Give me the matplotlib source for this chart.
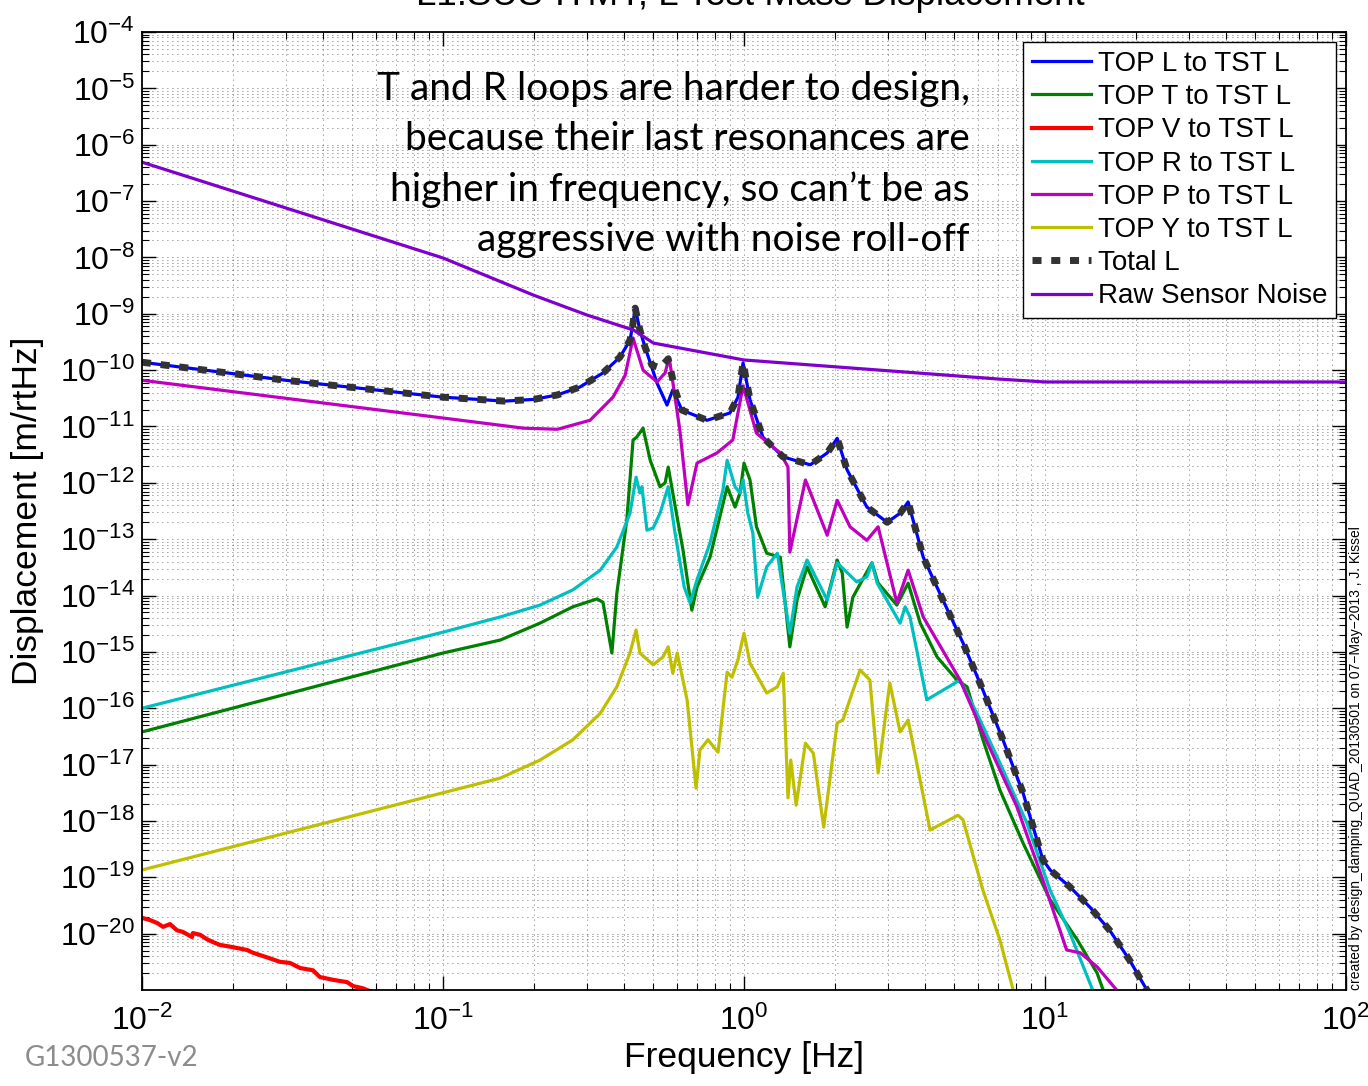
import numpy as np
import matplotlib.pyplot as plt
from matplotlib.ticker import LogLocator, NullFormatter

plt.rcParams['font.family'] = ['Liberation Sans', 'DejaVu Sans']
plt.rcParams['mathtext.fontset'] = 'custom'
plt.rcParams['mathtext.rm'] = 'Liberation Sans'
plt.rcParams['mathtext.it'] = 'Liberation Sans:italic'
plt.rcParams['mathtext.default'] = 'regular'

# ---- data (freq in Hz, displacement as log10 m/rtHz) ----
freq_L = [0.01, 0.03, 0.1, 0.16, 0.2, 0.24, 0.285, 0.34, 0.387, 0.418, 0.427, 0.435, 0.451, 0.469,
          0.514, 0.555, 0.58, 0.622, 0.754, 0.898, 0.955, 0.993, 1.047, 1.156,
          1.348, 1.66, 1.89, 2.04, 2.2, 2.56, 2.99, 3.30, 3.51, 3.94, 4.58, 5.34,
          6.22, 7.25, 8.45, 9.84, 10.4, 12.1, 14.1, 16.4, 19.1, 21.8, 30.0]
logd_L = [-9.86, -10.18, -10.48, -10.55, -10.52, -10.44, -10.30, -10.05, -9.77, -9.47, -9.20, -8.90, -9.29, -9.59,
          -10.23, -10.62, -10.35, -10.71, -10.89, -10.76, -10.48, -9.87, -10.53, -11.19,
          -11.54, -11.68, -11.47, -11.21, -11.77, -12.43, -12.70, -12.54, -12.34, -13.32,
          -14.08, -14.84, -15.68, -16.56, -17.50, -18.69, -18.87, -19.17, -19.53, -19.94,
          -20.47, -21.0, -22.0]

freq_tot = [0.01, 0.03, 0.1, 0.16, 0.2, 0.24, 0.285, 0.34, 0.387, 0.418, 0.427, 0.435, 0.451, 0.469,
            0.494, 0.526, 0.56, 0.59, 0.622, 0.754, 0.898, 0.955, 0.993, 1.047, 1.156,
            1.348, 1.66, 1.89, 2.04, 2.2, 2.56, 2.99, 3.30, 3.51, 3.94, 4.58, 5.34,
            6.22, 7.25, 8.45, 9.84, 10.4, 12.1, 14.1, 16.4, 19.1, 21.8, 30.0]
logd_tot = [-9.86, -10.18, -10.48, -10.55, -10.52, -10.44, -10.30, -10.05, -9.77, -9.47, -9.20, -8.90, -9.29, -9.59,
            -9.91, -9.96, -9.80, -10.35, -10.71, -10.89, -10.76, -10.48, -9.87, -10.53, -11.19,
            -11.54, -11.68, -11.47, -11.21, -11.77, -12.43, -12.70, -12.54, -12.34, -13.32,
            -14.08, -14.84, -15.68, -16.56, -17.50, -18.69, -18.87, -19.17, -19.53, -19.94,
            -20.47, -21.0, -22.0]

freq_T = [0.01, 0.1, 0.155, 0.21, 0.27, 0.325, 0.34, 0.364, 0.378, 0.408, 0.428, 0.44, 0.462,
          0.488, 0.526, 0.547, 0.560, 0.58, 0.627, 0.671, 0.698, 0.771, 0.879, 0.934,
          0.97, 1.0, 1.047, 1.10, 1.19, 1.32, 1.42, 1.50, 1.62, 1.86, 2.04, 2.12, 2.2,
          2.30, 2.66, 2.79, 3.22, 3.51, 3.85, 4.38, 5.10, 5.51, 6.22, 7.08, 8.45, 10.4,
          12.8, 14.9, 15.6, 20.0]
logd_T = [-16.42, -15.02, -14.79, -14.49, -14.20, -14.06, -14.12, -15.02, -13.96, -12.66, -11.24, -11.19, -11.03,
          -11.60, -12.07, -12.00, -11.72, -12.18, -13.19, -14.26, -13.85, -13.32, -12.07, -12.43,
          -12.18, -11.65, -11.95, -12.78, -13.25, -13.32, -14.91, -14.08, -13.49, -14.20, -13.37,
          -13.60, -14.56, -14.03, -13.42, -13.78, -14.17, -13.78, -14.49, -15.09, -15.50, -15.62,
          -16.56, -17.45, -18.39, -19.40, -20.11, -20.70, -21.0, -21.5]

freq_V = [0.01, 0.01064, 0.01122, 0.01175, 0.01239, 0.01306, 0.01368, 0.01466, 0.01476,
          0.01560, 0.01644, 0.01722, 0.01816, 0.02004, 0.02234, 0.02339, 0.02600, 0.02871,
          0.03105, 0.03350, 0.03698, 0.03899, 0.04315, 0.04797, 0.05023, 0.05420, 0.05715,
          0.0631]
logd_V = [-19.72, -19.76, -19.81, -19.88, -19.83, -19.94, -19.97, -20.06, -19.99,
          -20.02, -20.10, -20.15, -20.20, -20.24, -20.29, -20.34, -20.42, -20.50,
          -20.52, -20.61, -20.65, -20.77, -20.82, -20.86, -20.93, -20.97, -21.02,
          -21.15]

freq_R = [0.01, 0.1, 0.155, 0.21, 0.27, 0.333, 0.378, 0.418, 0.438, 0.451, 0.458, 0.476,
          0.499, 0.526, 0.560, 0.59, 0.633, 0.662, 0.698, 0.771, 0.851, 0.879, 0.934,
          0.97, 0.993, 1.03, 1.07, 1.11, 1.19, 1.29, 1.42, 1.50, 1.62, 1.89, 2.04, 2.37,
          2.56, 2.66, 2.77, 3.30, 3.43, 3.56, 4.05, 5.22, 5.94, 7.08, 8.71, 10.4, 12.1,
          14.4, 20.0]
logd_R = [-16.00, -14.65, -14.38, -14.17, -13.90, -13.55, -13.14, -12.54, -11.90, -12.18, -12.07, -12.84,
          -12.80, -12.54, -12.07, -12.89, -13.85, -14.13, -13.72, -13.07, -12.13, -11.60, -12.07,
          -12.18, -11.95, -12.54, -12.89, -14.03, -13.49, -13.25, -14.67, -13.85, -13.37, -14.08,
          -13.42, -13.76, -13.67, -13.42, -13.78, -14.49, -14.20, -14.38, -15.85, -15.50, -16.09,
          -16.97, -18.04, -19.23, -19.99, -21.0, -21.8]

freq_P = [0.01, 0.1, 0.185, 0.24, 0.308, 0.367, 0.403, 0.428, 0.462, 0.514, 0.547, 0.564,
          0.612, 0.651, 0.698, 0.813, 0.918, 0.993, 1.10, 1.32, 1.40, 1.42, 1.60, 1.89,
          2.04, 2.25, 2.56, 2.79, 3.22, 3.51, 3.94, 5.22, 6.22, 8.07, 9.84, 11.8, 13.1,
          14.9, 17.3, 25.0]
logd_P = [-10.18, -10.85, -11.03, -11.05, -10.89, -10.48, -10.09, -9.43, -10.00, -10.21, -10.05, -9.77,
          -11.06, -12.39, -11.65, -11.47, -11.24, -10.28, -11.12, -11.47, -11.72, -13.23, -11.95,
          -12.93, -12.31, -12.78, -13.02, -12.78, -14.13, -13.55, -14.38, -15.50, -16.44, -17.75,
          -19.05, -20.29, -20.34, -20.59, -21.0, -21.8]

freq_Y = [0.01, 0.1, 0.155, 0.21, 0.27, 0.333, 0.378, 0.418, 0.438, 0.451, 0.499, 0.538, 0.560,
          0.58, 0.60, 0.647, 0.693, 0.714, 0.759, 0.82, 0.879, 0.912, 0.955, 1.0, 1.047,
          1.19, 1.29, 1.35, 1.40, 1.43, 1.49, 1.60, 1.70, 1.84, 2.04, 2.13, 2.43, 2.62,
          2.79, 3.05, 3.30, 3.51, 4.15, 5.14, 5.34, 6.22, 7.08, 7.84, 10.0]
logd_Y = [-18.87, -17.50, -17.24, -16.92, -16.56, -16.09, -15.62, -15.02, -14.61, -15.02, -15.23, -15.09, -14.91,
          -15.38, -15.02, -15.85, -17.42, -16.74, -16.56, -16.78, -15.36, -15.45, -15.14, -14.67,
          -15.20, -15.73, -15.62, -15.38, -17.59, -16.92, -17.72, -16.62, -16.80, -18.11, -16.26,
          -16.21, -15.32, -15.50, -17.15, -15.55, -16.42, -16.21, -18.16, -17.90, -17.98, -19.23,
          -20.11, -21.0, -21.8]

freq_noise = [0.01, 0.1, 0.2, 0.3, 0.43, 0.5, 1.0, 7.08, 10.0, 100.0]
logd_noise = [-6.31, -8.01, -8.67, -9.02, -9.29, -9.52, -9.82, -10.16, -10.21, -10.21]

labels = ['TOP L to TST L', 'TOP T to TST L', 'TOP V to TST L', 'TOP R to TST L',
          'TOP P to TST L', 'TOP Y to TST L', 'Total L', 'Raw Sensor Noise']

fig = plt.figure(figsize=(13.68, 10.86), dpi=100)
ax = fig.add_axes([142/1368, 96/1086, 1204/1368, 958/1086])

lw = 2.3
ax.loglog(freq_L, 10**np.array(logd_L), color=(0, 0, 1), lw=lw, label=labels[0])
ax.loglog(freq_T, 10**np.array(logd_T), color=(0, 0.5, 0), lw=lw, label=labels[1])
ax.loglog(freq_V, 10**np.array(logd_V), color=(1, 0, 0), lw=3, label=labels[2])
ax.loglog(freq_R, 10**np.array(logd_R), color=(0, 0.75, 0.75), lw=lw, label=labels[3])
ax.loglog(freq_P, 10**np.array(logd_P), color=(0.75, 0, 0.75), lw=lw, label=labels[4])
ax.loglog(freq_Y, 10**np.array(logd_Y), color=(0.75, 0.75, 0), lw=lw, label=labels[5])
ax.loglog(freq_tot, 10**np.array(logd_tot), color='#333333', lw=5, ls=(0, (1.3, 1.4)),
          label=labels[6])
ax.loglog(freq_noise, 10**np.array(logd_noise), color='#7f00cc', lw=lw, label=labels[7])

ax.set_xlim(1e-2, 1e2)
ax.set_ylim(1e-21, 1e-4)
ax.set_yticks(10.0**np.arange(-20, -3))
ax.yaxis.set_minor_locator(LogLocator(base=10, subs=np.arange(2, 10), numticks=100))
ax.xaxis.set_minor_locator(LogLocator(base=10, subs=np.arange(2, 10), numticks=100))
ax.yaxis.set_minor_formatter(NullFormatter())
ax.xaxis.set_minor_formatter(NullFormatter())

ax.tick_params(which='both', direction='in', top=True, right=True, labelsize=23)
ax.tick_params(which='major', length=10, width=1)
ax.tick_params(which='minor', length=5, width=0.8)
ax.tick_params(axis='y', pad=5)
ax.tick_params(axis='x', pad=11)
for s in ax.spines.values():
    s.set_linewidth(1.3)

ax.grid(True, which='both', color='k', lw=0.6, ls=(0, (1, 5)), alpha=0.75)

ax.set_xlabel('Frequency [Hz]', fontsize=25.5, labelpad=3)
ax.set_ylabel('Displacement [m/rtHz]', fontsize=25.5)
ax.yaxis.set_label_coords((44 - 142) / 1204, 0.5)

leg = ax.legend(loc='upper right', bbox_to_anchor=(1194/1204, 948/958), fontsize=20,
                handlelength=2.1, handletextpad=0.25, labelspacing=0.26,
                borderpad=0.32, borderaxespad=0, fancybox=False, framealpha=1)
leg.get_frame().set_edgecolor('k')
leg.get_frame().set_linewidth(1.0)

fig.text(750/1368, 1 - 5/1086, 'L1:SUS-ITMY, L Test Mass Displacement', ha='center',
         va='baseline', fontsize=26.5)

note = ("T and R loops are harder to design,\nbecause their last resonances are\n"
        "higher in frequency, so can\u2019t be as\naggressive with noise roll-off")
fig.text(970/1368, 1 - 71/1086, note, ha='right', va='top', fontsize=28,
         family=['Lato', 'DejaVu Sans'], linespacing=1.48)

fig.text(1356/1368, 1 - 990/1086,
         'created by design_damping_QUAD_20130501 on 07\u2212May\u22122013 , J. Kissel',
         rotation=90, ha='center', va='bottom', fontsize=10)

fig.text(25/1368, 1 - 1066/1086, 'G1300537-v2', ha='left', va='baseline', fontsize=20,
         color='#8c8c8c', family=['Lato', 'DejaVu Sans'])

fig.savefig('out.png', dpi=100)
